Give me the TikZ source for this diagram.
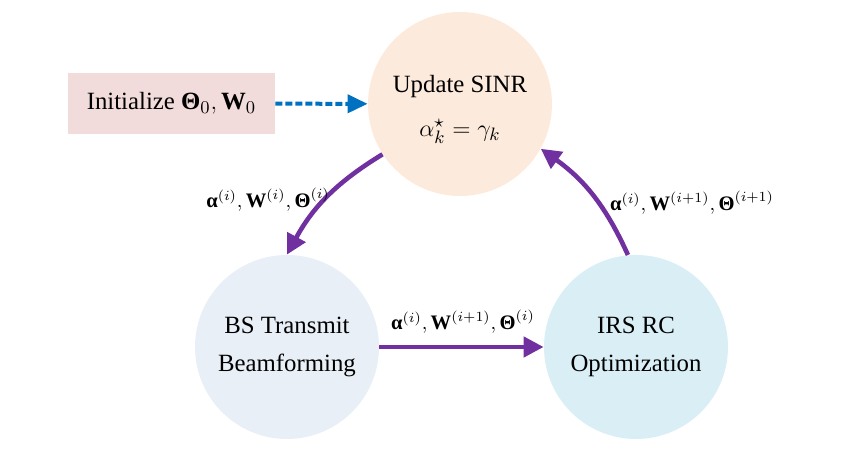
\documentclass[tikz,border=0pt]{standalone}
\usepackage{amsmath,bm}
\usepackage[no-math]{fontspec}
\setmainfont{Liberation Serif}
\usetikzlibrary{arrows.meta}
\definecolor{initpink}{RGB}{242,220,219}
\definecolor{sinrpeach}{RGB}{252,234,220}
\definecolor{bsgrey}{RGB}{233,239,247}
\definecolor{irsblue}{RGB}{218,238,245}
\definecolor{flowpurple}{RGB}{112,48,160}
\definecolor{initblue}{RGB}{0,112,192}
\newcommand{\vbf}[1]{\textbf{#1}}
\begin{document}
\begin{tikzpicture}[x=0.5pt,y=-0.5pt,
  stage/.style={circle,minimum size=92pt,inner sep=0pt,align=center,font=\fontsize{12.4}{19}\selectfont},
  flow/.style={draw=flowpurple,line width=2.3pt,-{Triangle[length=10pt,width=10pt]}},
  lbl/.style={font=\fontsize{10.3}{13}\selectfont}]
\useasboundingbox (0,0) rectangle (842,459);
\node[fill=initpink,minimum width=103.5pt,minimum height=30.5pt,inner sep=0pt,font=\fontsize{12.4}{15}\selectfont] (init) at (171.5,103.5) {Initialize $\vbf{Θ}_0, \vbf{W}_0$};
\node[stage,fill=sinrpeach] (sinr) at (460,104) {};
\node[align=center,font=\fontsize{12.4}{19}\selectfont] (sinrtext) at (460,109.5) {Update SINR\\[3pt]$\alpha{}_k^{\star} = \gamma_k$};
\node[stage,fill=bsgrey] (bs) at (287,347) {BS Transmit\\Beamforming};
\node[stage,fill=irsblue] (irs) at (636,347) {IRS RC\\Optimization};
\draw[initblue,line width=2pt,dash pattern=on 3.5pt off 1.5pt,-{Triangle[length=10pt,width=9pt]}] (init) -- (sinr);
\draw[flow] (sinr.213) to[bend right=15] (bs.90);
\node[lbl] (lbs) at (268,200) {$\vbf{α}^{(i)}, \vbf{W}^{(i)}, \vbf{Θ}^{(i)}$};
\draw[flow] (bs) -- (irs);
\node[lbl] (lirs) at (463,322) {$\vbf{α}^{(i)}, \vbf{W}^{(i+1)}, \vbf{Θ}^{(i)}$};
\draw[flow] (irs.95) to[bend right=15] (sinr.331);
\node[lbl] (lsinr) at (692,203) {$\vbf{α}^{(i)}, \vbf{W}^{(i+1)}, \vbf{Θ}^{(i+1)}$};
\end{tikzpicture}
\end{document}
